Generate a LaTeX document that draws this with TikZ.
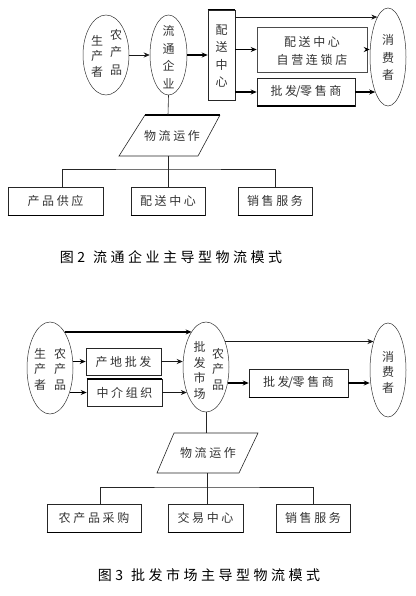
\documentclass[tikz,border=0pt]{standalone}
\usepackage{fontspec}
\newfontfamily\cjk[LetterSpace=22]{Noto Sans CJK SC}
\newfontfamily\capfont[LetterSpace=25]{Noto Sans CJK SC}
\usetikzlibrary{shapes.geometric,arrows.meta}
\begin{document}
\begin{tikzpicture}[x=1pt,y=-1pt,
  line/.style={draw=black!85, line width=0.6pt},
  heavy/.style={draw=black, line width=1.6pt},
  oval/.style={ellipse, draw=black!80, line width=0.5pt, inner sep=0pt},
  box/.style={draw=black!85, line width=0.6pt, inner sep=0pt},
  txt/.style={font=\cjk\fontsize{12}{18}\selectfont, inner sep=0pt, text=black!80, align=center},
  vtxt/.style={font=\cjk\fontsize{12}{17.5}\selectfont, align=center, inner sep=0pt, text=black!80},
  vtxtb/.style={font=\cjk\fontsize{12}{15.5}\selectfont, align=center, inner sep=0pt, text=black!80},
  captxt/.style={font=\capfont\fontsize{14}{16}\selectfont, inner sep=0pt, text=black},
  tarrow/.style={-{Stealth[length=6pt,width=5pt]}, line width=0.6pt, draw=black!90},
  karrow/.style={-{Stealth[length=6pt,width=5pt]}, line width=1.6pt, draw=black},
]
\useasboundingbox (0,0) rectangle (415,596);

%%%%%%%%%%%%%%%% Figure 2
\node[oval, minimum width=46, minimum height=80] (p2) at (106,55) {};
\node[vtxtb] (p2l) at (97,56) {生\\产\\者};
\node[vtxt] (p2r) at (116,52) {农\\产\\品};
\node[oval, minimum width=37, minimum height=80] (l2) at (168.5,55) {};
\node[vtxt] (l2t) at (168.5,57) {流\\通\\企\\业};
\node[box, minimum width=27, minimum height=90] (d2) at (221.5,55) {};
\node[vtxt] (d2t) at (221.5,56) {配\\送\\中\\心};
\draw[heavy] (d2.north west) -- (d2.north east);
\node[box, minimum width=110, minimum height=45, draw=black!70] (s2) at (312,49.5) {};
\node[txt] (s2t) at (312,50.5) {配送中心\\自营连锁店};
\node[box, minimum width=98, minimum height=28] (r2) at (306,92) {};
\node[txt] (r2t) at (306,92) {批发\kern-1.2pt/\kern-0.5pt零售商};
\draw[heavy] (r2.south west) -- (r2.south east);
\node[oval, minimum width=36, minimum height=98] (c2) at (388,57) {};
\node[vtxt] (c2t) at (388,57.5) {消\\费\\者};

\draw[tarrow] (p2.east) -- (l2.west);
\draw[karrow] (l2.east) -- (d2.west);
\draw[tarrow] (d2.east |- c2.105) -- (c2.105);
\draw[karrow] (d2.east |- s2.west) -- (s2.west);
\draw[karrow] (s2.east) -- (s2.east -| c2.west);
\draw[karrow] (d2.east |- r2.west) -- (r2.west);
\draw[karrow] (r2.east) -- (r2.east -| c2.250);

% logistics operation
\coordinate (o2a) at (145,115);
\coordinate (o2b) at (220,115);
\coordinate (o2c) at (198,156);
\coordinate (o2d) at (119,156);
\draw[line] (o2b) -- (o2c) -- (o2d) -- (o2a);
\draw[heavy] (o2a) -- (o2b);
\node[txt] (o2) at (172,136) {物流运作};
\coordinate (o2n) at (168,115);
\coordinate (o2s) at (168,156);
\coordinate (j2) at (168,169);
\draw[line] (l2.south) -- (o2n);
\draw[line] (o2s) -- (j2);

\node[box, minimum width=95, minimum height=28] (b2a) at (55.5,201) {};
\node[txt] (b2at) at (55.5,201) {产品供应};
\node[box, minimum width=74, minimum height=28] (b2b) at (168,201) {};
\node[txt] (b2bt) at (168,201) {配送中心};
\node[box, minimum width=74, minimum height=28] (b2c) at (275,201) {};
\node[txt] (b2ct) at (275,201) {销售服务};
\foreach \b in {b2a,b2b,b2c}{\draw[heavy] (\b.south west) -- (\b.south east);}
\draw[line] ([xshift=6.5pt]b2a.north) |- (j2) -| (b2c.north);
\draw[line] (j2) -- (b2b.north);

\node[captxt] (cap2) at (171,257) {图2\hspace{8pt}流通企业主导型物流模式};

%%%%%%%%%%%%%%%% Figure 3
\node[oval, minimum width=46, minimum height=92] (p3) at (50,368) {};
\node[vtxtb] (p3l) at (40,369) {生\\产\\者};
\node[vtxtb] (p3r) at (60,369) {农\\产\\品};
\node[oval, minimum width=46, minimum height=90] (m3) at (206,367) {};
\node[vtxtb] (m3l) at (199.5,370.5) {批\\发\\市\\场};
\node[vtxtb] (m3r) at (218,369) {农\\产\\品};
\node[box, minimum width=75, minimum height=27] (b3a) at (123.5,361.5) {};
\node[txt] (b3at) at (123.5,361.5) {产地批发};
\node[box, minimum width=75, minimum height=27] (b3b) at (124.5,392.5) {};
\node[txt] (b3bt) at (124.5,392.5) {中介组织};
\draw[heavy] (b3b.north west) -- (b3b.north east);
\node[box, minimum width=99, minimum height=28] (r3) at (298.5,383) {};
\node[txt] (r3t) at (298.5,383) {批发\kern-1.2pt/\kern-0.5pt零售商};
\draw[heavy] (r3.south west) -- (r3.south east);
\node[oval, minimum width=36, minimum height=94] (c3) at (388,370) {};
\node[vtxtb] (c3t) at (388,372) {消\\费\\者};

\draw[karrow] (p3.68) -- (m3.112 |- p3.68);
\draw[karrow] (b3a.west -| p3.east) -- (b3a.west);
\draw[tarrow] (b3a.east) -- (b3a.east -| m3.west);
\draw[karrow] (b3b.west -| p3.309) -- (b3b.west);
\draw[tarrow] (b3b.east) -- (b3b.east -| m3.233);
\draw[tarrow] (m3.53) -- (m3.53 -| c3.117);
\draw[karrow] (r3.west -| m3.323) -- (r3.west);
\draw[karrow] (r3.east) -- (r3.east -| c3.west);

\coordinate (o3a) at (174,433);
\coordinate (o3b) at (258,433);
\coordinate (o3c) at (239,473);
\coordinate (o3d) at (157,473);
\draw[line] (o3a) -- (o3b) -- (o3c) -- (o3d) -- cycle;
\node[txt] (o3) at (208,453) {物流运作};
\coordinate (o3n) at (206,433);
\coordinate (o3s) at (207,473);
\coordinate (j3) at (207,487);
\draw[line] (m3.south) -- (o3n);
\draw[line] (o3s) -- (j3);

\node[box, minimum width=94, minimum height=28] (b3x) at (94,518) {};
\node[txt] (b3xt) at (94,518) {农产品采购};
\node[box, minimum width=75, minimum height=28] (b3y) at (205.5,518) {};
\node[txt] (b3yt) at (205.5,518) {交易中心};
\node[box, minimum width=74, minimum height=28] (b3z) at (313,518) {};
\node[txt] (b3zt) at (313,518) {销售服务};
\foreach \b in {b3x,b3y,b3z}{\draw[heavy] (\b.south west) -- (\b.south east);}
\draw[line] ([xshift=6pt]b3x.north) |- (j3) -| (b3z.north);
\draw[line] (j3) -- (j3 |- b3y.north);

\node[captxt] (cap3) at (209,575) {图3\hspace{8pt}批发市场主导型物流模式};
\end{tikzpicture}
\end{document}
